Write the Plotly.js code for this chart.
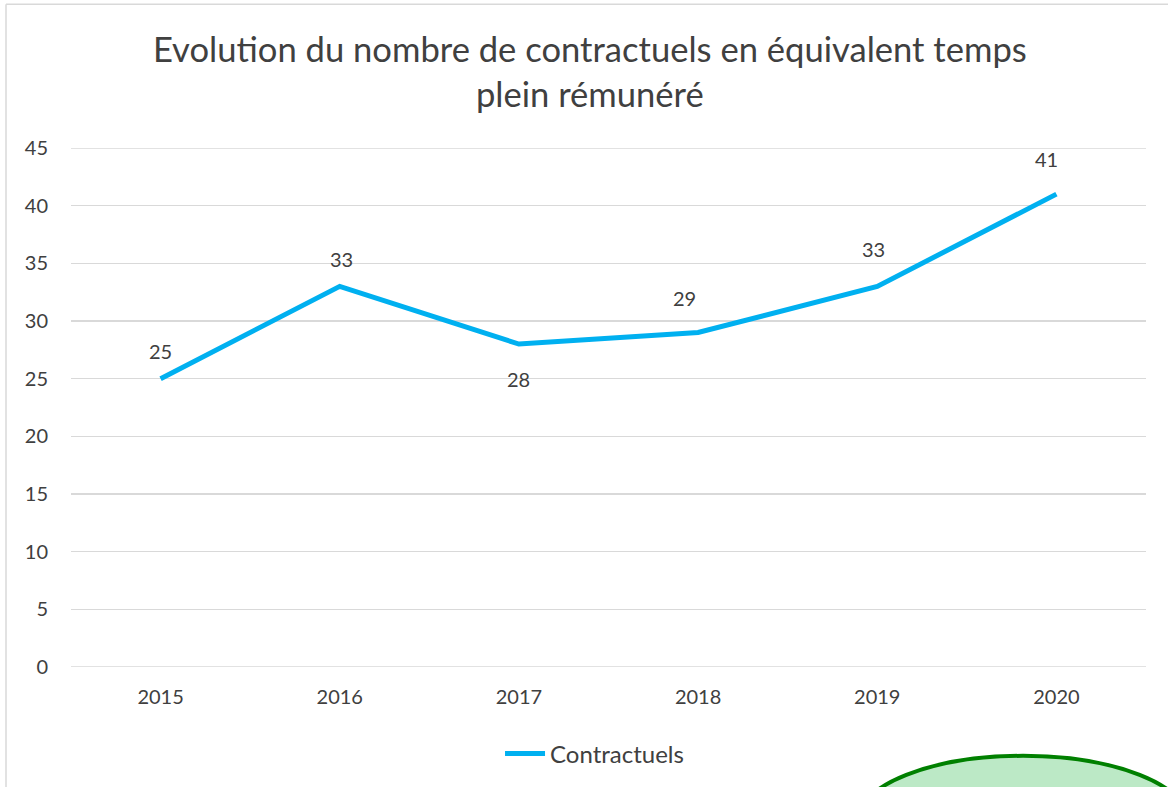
<!DOCTYPE html>
<html><head><meta charset="utf-8">
<script src="https://cdn.plot.ly/plotly-3.0.1.min.js"></script>
<style>html,body{margin:0;padding:0;background:#fff;}#chart{width:1168px;height:787px;}</style>
</head><body><div id="chart"></div>
<script>
const years = ['2015','2016','2017','2018','2019','2020'];
const contractuels = [25, 33, 28, 29, 33, 41];
const yTicks = [0,5,10,15,20,25,30,35,40,45];

const W = 1168, H = 787, L = 71, R = 22, T = 148, B = 119;
const pw = W - L - R, ph = H - T - B;
const px = v => (v - L) / pw;
const py = v => (H - B - v) / ph;

const FONT = 'Lato, "Noto Sans", sans-serif';
const labelShift = [28, 27, -35, 35, 37, 35];
const labelXShift = [0, 2, 0, -14, -4, -10];
const annotations = contractuels.map((v, i) => ({
  x: i, y: v, xref: 'x', yref: 'y', text: String(v), showarrow: false,
  yshift: labelShift[i], xshift: labelXShift[i],
  font: {family: FONT, size: 20, color: '#404040'}
}));

const data = [{
  type: 'scatter', mode: 'lines', x: years, y: contractuels, name: 'Contractuels',
  line: {color: '#00B0F0', width: 5}, hoverinfo: 'skip'
}];

const edgeGrid = [yTicks[0], yTicks[yTicks.length - 1]].map(v => ({
  type: 'line', xref: 'paper', yref: 'y', x0: 0, x1: 1, y0: v, y1: v, layer: 'below',
  line: {color: '#d9d9d9', width: 1.5}
}));

const layout = {
  width: W, height: H,
  margin: {l: L, r: R, t: T, b: B},
  paper_bgcolor: '#fff', plot_bgcolor: '#fff',
  title: {text: 'Evolution du nombre de contractuels en équivalent temps<br>plein rémunéré',
    x: 0.505, xanchor: 'center', y: 1 - 62/H, yanchor: 'middle',
    font: {family: FONT, size: 34.6, color: '#404040'}},
  xaxis: {type: 'category', range: [-0.5, 5.5], showgrid: false, zeroline: false,
    showline: false, ticks: '', ticklen: 0, ticklabelstandoff: 16,
    tickfont: {family: FONT, size: 20, color: '#404040'}},
  yaxis: {range: [0, 45], tickvals: yTicks, showgrid: true, gridcolor: '#d9d9d9', gridwidth: 1.5,
    zeroline: false, showline: false, ticks: '', ticklabelstandoff: 22,
    tickfont: {family: FONT, size: 20, color: '#404040'}},
  showlegend: true,
  legend: {orientation: 'h', x: 0.487, xanchor: 'center', y: py(754), yanchor: 'middle',
    font: {family: FONT, size: 24, color: '#404040'}, itemwidth: 40, itemsizing: 'constant'},
  annotations: annotations,
  shapes: edgeGrid.concat([
    {type: 'line', xref: 'paper', yref: 'paper', x0: px(6), x1: px(1200), y0: py(4), y1: py(4),
      line: {color: '#d9d9d9', width: 1.5}},
    {type: 'line', xref: 'paper', yref: 'paper', x0: px(6), x1: px(6), y0: py(4), y1: py(800),
      line: {color: '#d9d9d9', width: 1.5}},
    {type: 'circle', xref: 'paper', yref: 'paper', layer: 'above',
      x0: px(1023 - 165), x1: px(1023 + 165), y0: py(757), y1: py(757 + 130),
      fillcolor: '#bce9c6', line: {color: '#008000', width: 4}}
  ])
};
Plotly.newPlot('chart', data, layout, {staticPlot: true, displayModeBar: false});
</script></body></html>
